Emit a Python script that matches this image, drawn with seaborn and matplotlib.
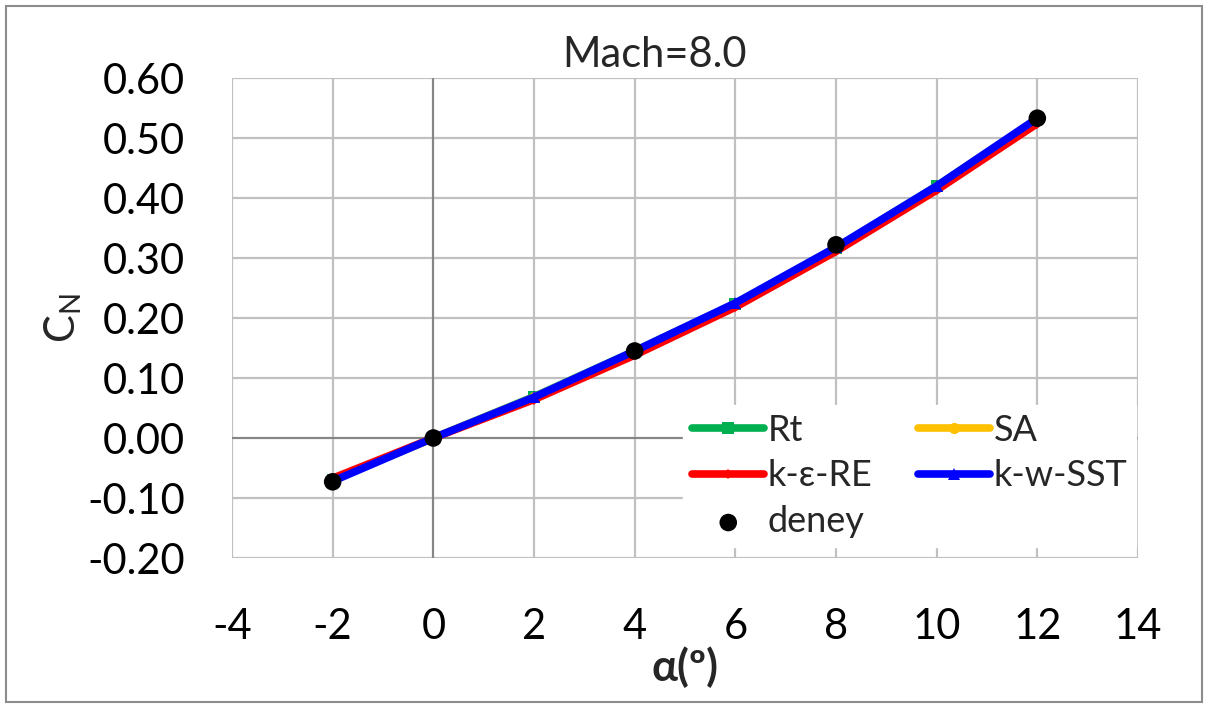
import pandas as pd
import matplotlib.pyplot as plt
import matplotlib.patches as mpatches
import seaborn as sns

# Data
alpha = [-2, 0, 2, 4, 6, 8, 10, 12]
cn_rt = [-0.070, 0.000, 0.069, 0.145, 0.224, 0.317, 0.420, 0.532]
cn_sa = [-0.070, 0.000, 0.068, 0.144, 0.223, 0.316, 0.419, 0.531]
cn_ke = [-0.067, 0.000, 0.064, 0.138, 0.218, 0.311, 0.413, 0.524]
cn_sst = [-0.072, 0.000, 0.068, 0.145, 0.225, 0.318, 0.420, 0.533]

deney_alpha = [-2, 0, 4, 8, 12]
deney_cn = [-0.073, 0.000, 0.145, 0.322, 0.533]

x_ticks = [-4, -2, 0, 2, 4, 6, 8, 10, 12, 14]
y_ticks = [-0.20, -0.10, 0.00, 0.10, 0.20, 0.30, 0.40, 0.50, 0.60]

series = [
    ("Rt", cn_rt, "#00b050", "s", 8),
    ("SA", cn_sa, "#ffc000", "o", 8),
    ("k-ε-RE", cn_ke, "#ff0000", "D", 5),
    ("k-w-SST", cn_sst, "#0000ff", "^", 8),
]

sns.set_theme(style="whitegrid")
plt.rcParams["font.family"] = ["Lato", "DejaVu Sans"]
plt.rcParams["mathtext.fontset"] = "custom"
plt.rcParams["mathtext.rm"] = "Lato"
plt.rcParams["axes.unicode_minus"] = False

fig = plt.figure(figsize=(12.05, 7.04), dpi=100)
ax = fig.add_axes([232 / 1205, 146 / 704, 906 / 1205, 480 / 704])

for name, vals, col, mk, ms in series:
    df = pd.DataFrame({"alpha": alpha, "cn": vals})
    sns.lineplot(data=df, x="alpha", y="cn", ax=ax, color=col, lw=5.5,
                 marker=mk, markersize=ms, markeredgewidth=0,
                 label=name, solid_capstyle="round")

df_d = pd.DataFrame({"alpha": deney_alpha, "cn": deney_cn})
sns.scatterplot(data=df_d, x="alpha", y="cn", ax=ax, color="black", s=160,
                edgecolor="none", label="deney", zorder=5)

ax.axhline(0, color="#868686", lw=1.5, zorder=1)
ax.axvline(0, color="#868686", lw=1.5, zorder=1)

ax.set_xlim(-4, 14)
ax.set_ylim(-0.2, 0.6)
ax.set_xticks(x_ticks)
ax.set_yticks(y_ticks)
ax.set_yticklabels([f"{v:.2f}" for v in y_ticks])
ax.grid(True, color="#c0c0c0", lw=1.6)
for s in ax.spines.values():
    s.set_visible(False)
ax.tick_params(axis="both", length=0, labelsize=30, colors="black")
ax.tick_params(axis="x", pad=36)
ax.tick_params(axis="y", pad=34)

ax.set_xlabel("α(º)", fontsize=31, fontweight="bold", labelpad=0)
ax.set_ylabel(r"$\mathrm{C_N}$", fontsize=30, labelpad=2)
fig.text(655 / 1205, 1 - 55 / 704, "Mach=8.0", fontsize=30, ha="center", va="center")

# row-wise legend order like the reference
h, l = ax.get_legend_handles_labels()
order = [0, 2, 4, 1, 3]
leg = ax.legend([h[i] for i in order], [l[i] for i in order],
                loc="upper left", bbox_to_anchor=(0.478, 0.357), ncol=2,
                fontsize=26, frameon=True, framealpha=1, edgecolor="white",
                fancybox=False, handlelength=2.0, handletextpad=0.1,
                columnspacing=1.25, labelspacing=0.35, borderpad=0.25)

fig.patches.append(mpatches.Rectangle((6 / 1205, 2 / 704), 1196 / 1205, 696 / 704,
                                      transform=fig.transFigure, fill=False,
                                      edgecolor="#8c8c8c", lw=1.5))

fig.savefig("out.png", dpi=100)
